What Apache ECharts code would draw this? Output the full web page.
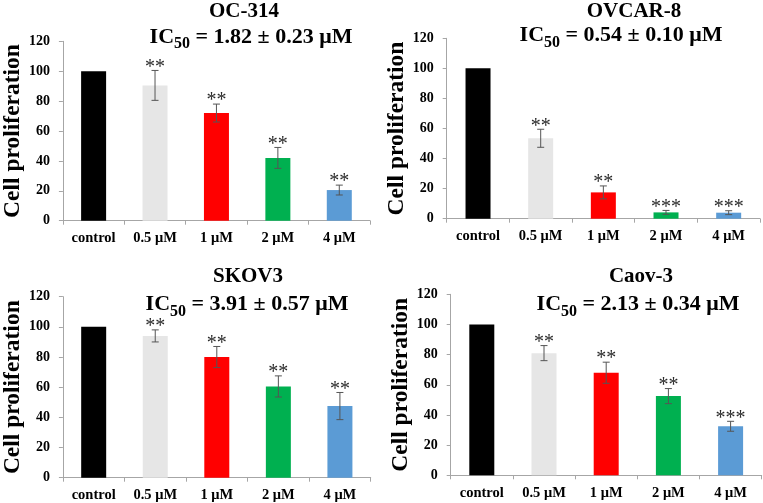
<!DOCTYPE html>
<html>
<head>
<meta charset="utf-8">
<script src="https://cdn.jsdelivr.net/npm/echarts@6/dist/echarts.min.js"></script>
<style>
html,body{margin:0;padding:0;background:#fff;}
#chart{width:763px;height:503px;}
</style>
</head>
<body>
<div id="chart"></div>
<script>
// ---- data ----
const categories = ['control', '0.5 μM', '1 μM', '2 μM', '4 μM'];
const yTicks = [0, 20, 40, 60, 80, 100, 120];

const cellLines = ['OC-314', 'OVCAR-8', 'SKOV3', 'Caov-3'];
const ic50Text = ['1.82 ± 0.23 μM', '0.54 ± 0.10 μM', '3.91 ± 0.57 μM', '2.13 ± 0.34 μM'];

const oc314Mean = [100, 90.5, 72, 42, 20.5];
const oc314Err  = [0, 10, 6, 7, 3.3];
const oc314Sig  = ['', '**', '**', '**', '**'];

const ovcar8Mean = [100, 53.5, 17.5, 4.2, 4];
const ovcar8Err  = [0, 6, 4.3, 1.3, 1.3];
const ovcar8Sig  = ['', '**', '**', '***', '***'];

const skov3Mean = [100, 94, 80, 60.5, 47.5];
const skov3Err  = [0, 4, 7, 7, 9];
const skov3Sig  = ['', '**', '**', '**', '**'];

const caov3Mean = [100, 81, 68, 52.5, 32.5];
const caov3Err  = [0, 5, 7, 5, 3.3];
const caov3Sig  = ['', '**', '**', '**', '***'];

// ---- styles / layout ----
const barColors = ['#000000', '#e6e6e6', '#ff0000', '#00b050', '#5b9bd5'];
const FONT = "'Liberation Serif', 'Times New Roman', serif";
const grids = [
  {left: 57, top: 41.3, width: 313, height: 179.4},
  {left: 446.7, top: 38.3, width: 313.3, height: 180.4},
  {left: 59.3, top: 296.7, width: 311.4, height: 181},
  {left: 450.7, top: 294.3, width: 311, height: 181}
];
const titlePos = [
  {nameX: 244, nameY: 0.5, icX: 251, icY: 25},
  {nameX: 634, nameY: 1, icX: 621, icY: 23.5},
  {nameX: 248, nameY: 266, icX: 247, icY: 292.5},
  {nameX: 641, nameY: 266, icX: 638, icY: 292.5}
];

const means = [oc314Mean, ovcar8Mean, skov3Mean, caov3Mean];
const errs = [oc314Err, ovcar8Err, skov3Err, caov3Err];
const sigs = [oc314Sig, ovcar8Sig, skov3Sig, caov3Sig];

const chart = echarts.init(document.getElementById('chart'), null, {renderer: 'canvas'});

const title = [];
const xAxis = [];
const yAxis = [];
const series = [];

cellLines.forEach((name, i) => {
  const tp = titlePos[i];
  title.push({
    text: name, left: tp.nameX, top: tp.nameY, textAlign: 'center', padding: 0,
    textStyle: {fontFamily: FONT, fontWeight: 'bold', fontSize: 21, lineHeight: 22, color: '#000'}
  });
  title.push({
    text: '{m|IC}{s|50}{m| = ' + ic50Text[i] + '}',
    left: tp.icX, top: tp.icY, textAlign: 'center', padding: 0,
    textStyle: {
      rich: {
        m: {fontFamily: FONT, fontWeight: 'bold', fontSize: 22, color: '#000', lineHeight: 24},
        s: {fontFamily: FONT, fontWeight: 'bold', fontSize: 16, color: '#000', lineHeight: 16, padding: [14, 0, 0, 0]}
      }
    }
  });
  xAxis.push({
    type: 'category', gridIndex: i, data: categories,
    axisLine: {lineStyle: {color: '#a6a6a6', width: 1}},
    axisTick: {show: true, length: 4, alignWithLabel: false, lineStyle: {color: '#a6a6a6'}},
    axisLabel: {fontFamily: FONT, fontWeight: 'bold', fontSize: 14.5, color: '#000', margin: 10}
  });
  yAxis.push({
    type: 'value', gridIndex: i, min: yTicks[0], max: yTicks[yTicks.length - 1], interval: 20,
    name: 'Cell proliferation', nameLocation: 'middle', nameGap: 37,
    nameTextStyle: {fontFamily: FONT, fontWeight: 'bold', fontSize: 23.5, color: '#000'},
    axisLine: {show: true, lineStyle: {color: '#a6a6a6', width: 1}},
    axisTick: {show: true, length: 4, lineStyle: {color: '#a6a6a6'}},
    splitLine: {show: false},
    axisLabel: {fontFamily: FONT, fontWeight: 'bold', fontSize: 14, color: '#000', margin: 13}
  });
  series.push({
    type: 'bar', xAxisIndex: i, yAxisIndex: i, barWidth: 25,
    data: means[i].map((v, k) => ({value: v, itemStyle: {color: barColors[k]}})),
    animation: false
  });
  const sig = sigs[i];
  series.push({
    type: 'custom', xAxisIndex: i, yAxisIndex: i, animation: false, z: 5,
    data: means[i].map((v, k) => [k, v, errs[i][k]]),
    renderItem: function (params, api) {
      const k = api.value(0), m = api.value(1), e = api.value(2);
      const children = [];
      const top = api.coord([k, m + e]);
      const bot = api.coord([k, m - e]);
      const x = top[0];
      const cap = 3.5;
      const ls = {stroke: '#555', lineWidth: 1};
      if (e > 0) {
        children.push({type: 'line', shape: {x1: x, y1: top[1], x2: x, y2: bot[1]}, style: ls});
        children.push({type: 'line', shape: {x1: x - cap, y1: top[1], x2: x + cap, y2: top[1]}, style: ls});
        children.push({type: 'line', shape: {x1: x - cap, y1: bot[1], x2: x + cap, y2: bot[1]}, style: ls});
      }
      const s = sig[params.dataIndex];
      if (s) {
        children.push({
          type: 'text',
          style: {text: s, x: x, y: top[1] - 3, align: 'center', verticalAlign: 'middle',
            font: "20px " + FONT, fill: '#2b2b2b'}
        });
      }
      return {type: 'group', children: children};
    }
  });
});

chart.setOption({
  backgroundColor: '#fff',
  animation: false,
  title: title,
  grid: grids.map(g => Object.assign({containLabel: false}, g)),
  xAxis: xAxis,
  yAxis: yAxis,
  series: series
});
</script>
</body>
</html>
